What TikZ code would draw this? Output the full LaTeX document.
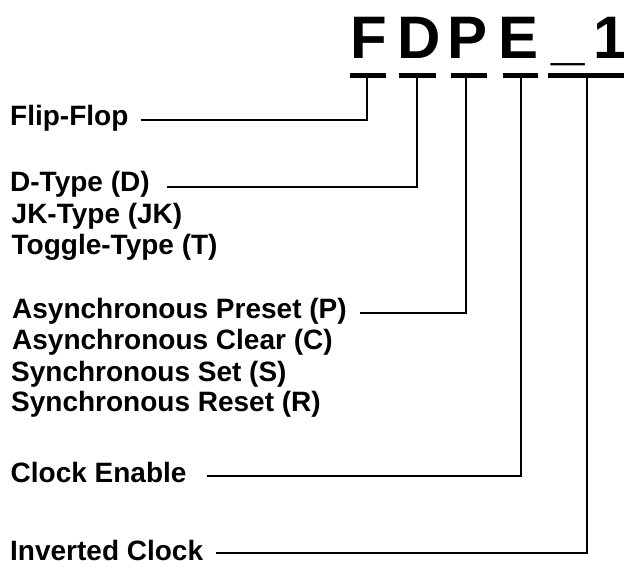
\documentclass[tikz,border=0pt]{standalone}
\usepackage{fontspec}
\setmainfont{Liberation Sans}
\begin{document}
\begin{tikzpicture}[x=1pt,y=-1pt,
  lbl/.style={anchor=base west,inner sep=0pt,font=\fontsize{28}{30}\selectfont\bfseries},
  big/.style={anchor=base west,inner sep=0pt,font=\fontsize{60}{60}\selectfont\bfseries},
  bar/.style={rectangle,fill=black,draw=none,inner sep=0pt,minimum height=5pt},
  wire/.style={line width=2pt,line join=miter}]
\useasboundingbox (0,0) rectangle (624,566);
% title letters
\node[big] (cF) at (350.6,58) {F};
\node[big] (cD) at (397.4,58) {D};
\node[big] (cP) at (447.4,58) {P};
\node[big] (cE) at (498.6,58) {E};
\node[big] (cU) at (551.7,58) {\_};
\node[big] (c1) at (593.5,58) {\makebox[26pt][l]{1}};
% bars
\node[bar,minimum width=36pt] (b1) at (368,75.5) {};
\node[bar,minimum width=37pt] (b2) at (417.5,75.5) {};
\node[bar,minimum width=36pt] (b3) at (469,75.5) {};
\node[bar,minimum width=35pt] (b4) at (520.5,75.5) {};
\node[bar,minimum width=76pt] (b5) at (586,75.5) {};
% labels
\node[lbl] (ff) at (10,125) {Flip-Flop};
\node[lbl] (d)  at (10,191) {D-Type (D)};
\node[lbl] (jk) at (11.5,223) {JK-Type (JK)};
\node[lbl] (t)  at (11.5,254) {Toggle-Type (T)};
\node[lbl] (ap) at (12,318) {Asynchronous Preset (P)};
\node[lbl] (ac) at (12,349) {Asynchronous Clear (C)};
\node[lbl] (ss) at (11,381) {Synchronous Set (S)};
\node[lbl] (sr) at (11,411) {Synchronous Reset (R)};
\node[lbl] (ce) at (10.5,482) {Clock Enable};
\node[lbl] (ic) at (10,560) {Inverted Clock};
% connectors
\draw[wire] ([xshift=12pt,yshift=5pt]ff.base east) -| ([xshift=-1pt]b1.south);
\draw[wire] ([xshift=17pt,yshift=4pt]d.base east) -| ([xshift=-0.5pt]b2.south);
\draw[wire] ([xshift=13pt,yshift=5pt]ap.base east) -| ([xshift=-3pt]b3.south);
\draw[wire] ([xshift=20pt,yshift=6pt]ce.base east) -| ([xshift=0.5pt]b4.south);
\draw[wire] ([xshift=13pt,yshift=7pt]ic.base east) -| ([xshift=1pt]b5.south);
\end{tikzpicture}
\end{document}
